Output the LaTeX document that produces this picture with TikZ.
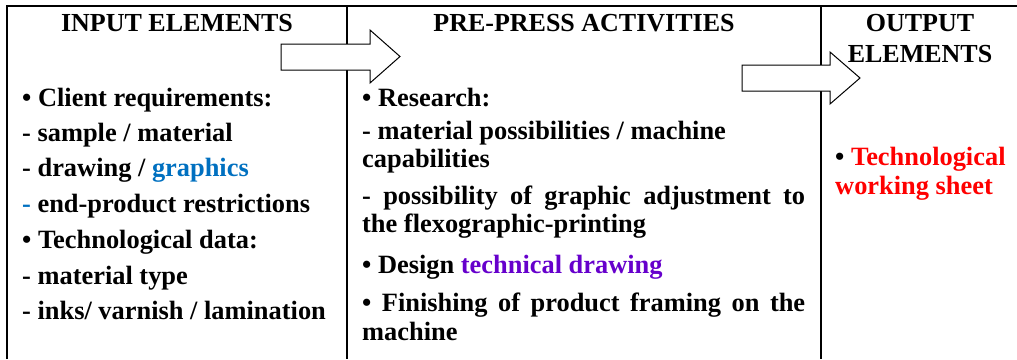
\documentclass[tikz,border=0pt]{standalone}
\usepackage{fontspec}
\setmainfont{Liberation Serif}
\definecolor{gblue}{RGB}{0,112,192}
\definecolor{gpurple}{RGB}{102,0,204}
\definecolor{gred}{RGB}{255,0,0}
\begin{document}
\begin{tikzpicture}[x=1pt,y=-1pt,
  txt/.style={anchor=base west,inner sep=0pt,font=\fontsize{26.4}{30}\selectfont\bfseries},
  head/.style={anchor=base,inner sep=0pt,font=\fontsize{26}{30}\selectfont\bfseries},
  rule/.style={line width=2pt},
  blockarrow/.style={draw=black,fill=white,line width=1pt,line join=miter}]
\useasboundingbox (0,0) rectangle (1017,359);
% table lines
\draw[rule] (7,359) -- (7,6) -- (1017,6);
\draw[rule] (347,6) -- (347,359);
\draw[rule] (821,6) -- (821,359);
% headings
\node[head] (h1) at (177,31) {INPUT ELEMENTS};
\node[head] (h2) at (584,31) {PRE-PRESS ACTIVITIES};
\node[head] (h3a) at (920,31) {OUTPUT};
\node[head] (h3b) at (920,62) {ELEMENTS};
% column 1
\node[txt] (a1) at (22,106) {\textbullet\ Client requirements:};
\node[txt] (a2) at (22,141) {- sample / material};
\node[txt] (a3) at (22,176) {- drawing / \textcolor{gblue}{graphics}};
\node[txt] (a4) at (22,212) {\textcolor{gblue}{-} end-product restrictions};
\node[txt] (a5) at (22,248) {\textbullet\ Technological data:};
\node[txt] (a6) at (22,284) {- material type};
\node[txt] (a7) at (22,319) {- inks/ varnish / lamination};
% column 2
\node[txt] (b1) at (362,106) {\textbullet\ Research:};
\node[txt] (b2) at (362,139) {- material possibilities / machine};
\node[txt] (b3) at (362,167) {capabilities};
\node[txt] (b4) at (362,204) {\makebox[443pt][s]{- possibility of graphic adjustment to}};
\node[txt] (b5) at (362,232) {the flexographic-printing};
\node[txt] (b6) at (362,273) {\textbullet\ Design \textcolor{gpurple}{technical drawing}};
\node[txt] (b7) at (362,311) {\makebox[443pt][s]{\textbullet\ Finishing of product framing on the}};
\node[txt] (b8) at (362,340) {machine};
% column 3
\node[txt] (c1) at (835,165) {\textbullet\ \textcolor{gred}{Technological}};
\node[txt] (c2) at (835,194) {\textcolor{gred}{working sheet}};
% block arrows
\draw[blockarrow] (281,44) -- (370,44) -- (370,30) -- (400,56.5) -- (370,83) -- (370,70) -- (281,70) -- cycle;
\draw[blockarrow] (742,65) -- (830,65) -- (830,52) -- (860,78) -- (830,104) -- (830,91) -- (742,91) -- cycle;
\end{tikzpicture}
\end{document}
